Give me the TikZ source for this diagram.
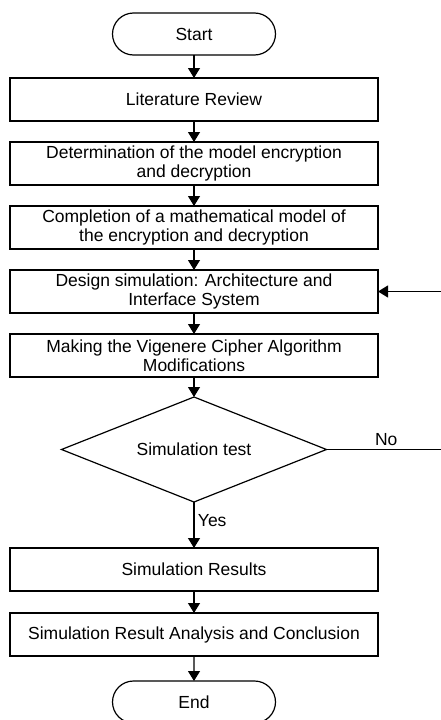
\documentclass[tikz,border=0pt]{standalone}
\usepackage{fontspec}
\setmainfont{Liberation Sans}
\usepackage{tikz}
\usetikzlibrary{positioning, arrows.meta, shapes.geometric, shapes.misc}
\tikzset{>={Triangle[length=10pt, width=12pt]}}
\tikzset{flow text/.style={font=\fontsize{17.5}{19}\selectfont, align=center}}
\tikzset{terminal/.style={draw, rounded rectangle, flow text, outer sep=0pt, minimum width=165pt, minimum height=42pt, inner sep=1pt}}
\tikzset{process/.style={draw, rectangle, flow text, outer sep=0pt, minimum width=368pt, minimum height=43pt, inner xsep=4pt, inner ysep=0.5pt}}
\tikzset{decision/.style={draw, diamond, flow text, outer sep=0pt, aspect=2.5, minimum width=265pt, minimum height=105pt, inner sep=1pt}}

\begin{document}
\begin{tikzpicture}[line width=1.2pt, node distance=21pt]
    \path[use as bounding box, clip] (0pt,0pt) rectangle (441pt,-720pt);

    \node[terminal] (start) at (194pt,-34pt) {Start};

    \node[process, below=23pt of start] (lit-review) {Literature Review};
    \node[process, below=of lit-review] (model-det)
    {Determination of the model encryption \\ and decryption};
    \node[process, below=of model-det] (math-model)
    {Completion of a mathematical model of \\ the encryption and decryption};
    \node[process, below=of math-model] (design)
    {Design simulation: Architecture and \\ Interface System};
    \node[process, below=of design] (vigenere)
    {Making the Vigenere Cipher Algorithm \\ Modifications};

    \node[decision, below=20pt of vigenere] (sim-test) {Simulation test};

    \node[process, below=46pt of sim-test] (sim-results) {Simulation Results};
    \node[process, below=22pt of sim-results] (analysis)
    {Simulation Result Analysis and Conclusion};

    \node[terminal, below=25pt of analysis] (stop) {End};

    \coordinate[right=119.5pt of sim-test.east] (no-turn);

    \draw [->] (start) to (lit-review);
    \draw [->] (lit-review) to (model-det);
    \draw [->] (model-det) to (math-model);
    \draw [->] (math-model) to (design);
    \draw [->] (design) to (vigenere);
    \draw [->] (vigenere) to (sim-test);
    \draw [->] (sim-test) to node[right, flow text, pos=0.4] {Yes} (sim-results);
    \draw [->] (sim-test.east) -- node[above, flow text] {No} (no-turn) |- (design.east);
    \draw [->] (sim-results) to (analysis);
    \draw [->] (analysis) to (stop);
\end{tikzpicture}
\end{document}
